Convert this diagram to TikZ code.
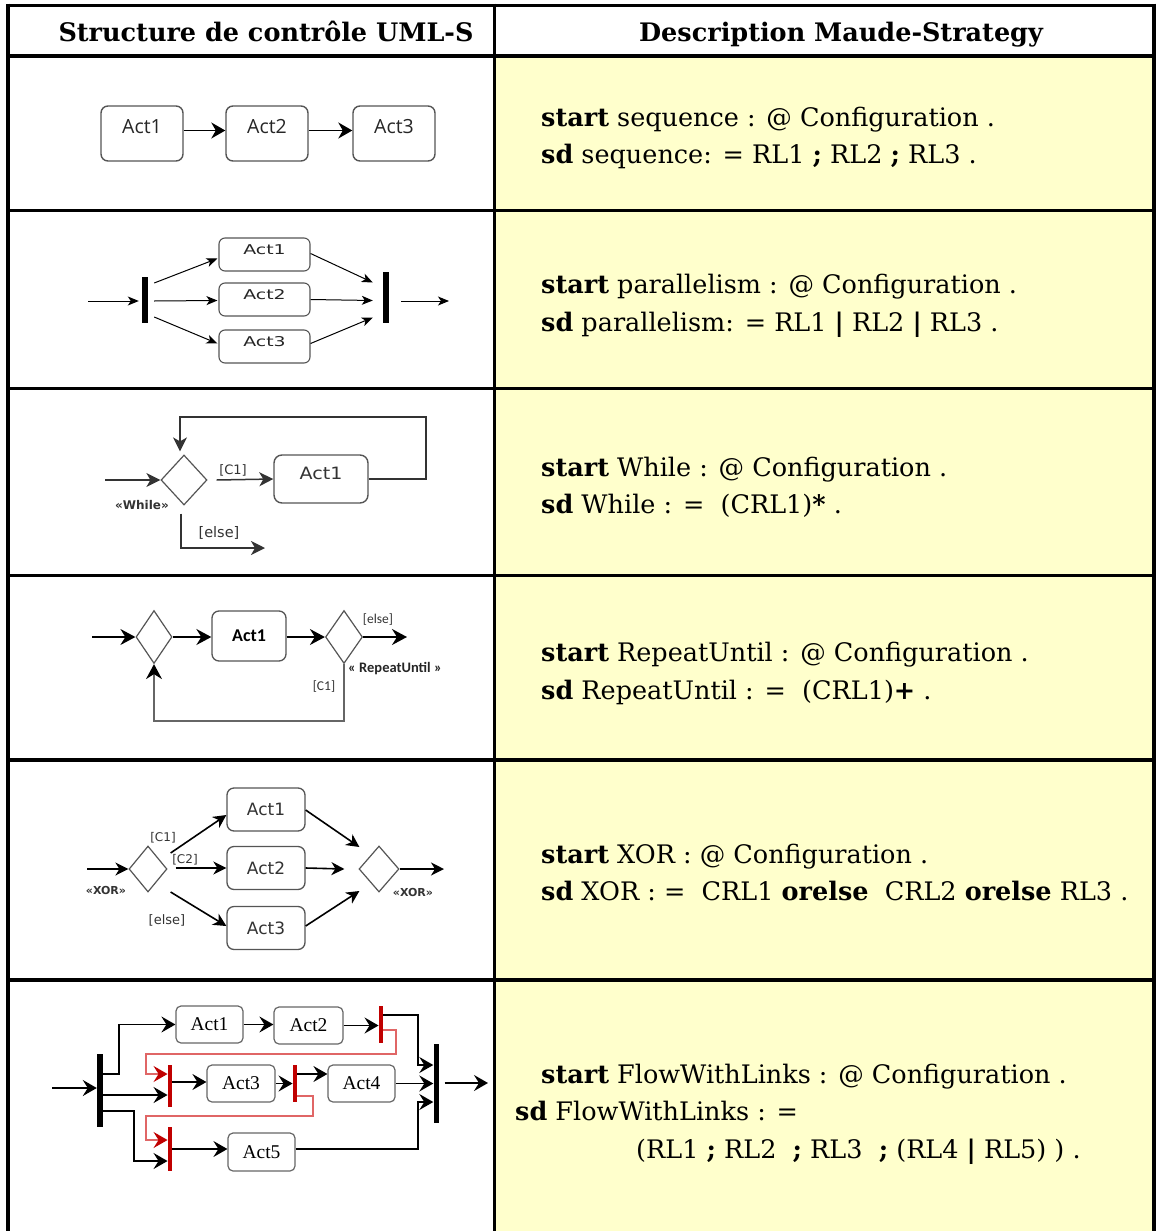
\documentclass[tikz,border=0pt]{standalone}
\usepackage{fontspec}
\usepackage{graphicx}
\setmainfont{DejaVu Serif}
\newfontfamily\dvsans{DejaVu Sans}
\newfontfamily\opsans{Open Sans}
\newfontfamily\carlito{Carlito}
\newfontfamily\libserif{Liberation Serif}
\usetikzlibrary{arrows.meta,shapes.geometric,calc}
\definecolor{cellyellow}{HTML}{FFFFCC}
\definecolor{boxgray}{HTML}{555555}
\definecolor{linkred}{HTML}{E06666}
\definecolor{barred}{HTML}{C00000}
\definecolor{labgray}{HTML}{333333}

\begin{document}
\begin{tikzpicture}[x=1pt,y=-1pt,
  tbl/.style={line width=3.6pt},
  desc/.style={anchor=base west, inner sep=0pt, font=\fontsize{25.5}{37}\selectfont},
  hdr/.style={anchor=base, inner sep=0pt, font=\bfseries\fontsize{25.5}{30}\selectfont},
  % sequence
  seqact/.style={draw=boxgray, line width=1.4pt, rounded corners=7pt, inner sep=0pt,
    minimum width=82pt, minimum height=55pt, font=\opsans\fontsize{19.5}{22}\selectfont,
    text=black!85, text height=10pt, text depth=10pt},
  seqarr/.style={line width=1.7pt, -{Stealth[length=14pt,width=16pt,inset=4.5pt]}},
  % parallelism
  paract/.style={draw=boxgray, line width=1.1pt, rounded corners=6pt, inner sep=0pt,
    minimum width=91pt, minimum height=33pt, font=\dvsans\fontsize{13.5}{15}\selectfont,
    text=black!85, text height=7pt, text depth=7pt},
  pararr/.style={line width=1pt, -{Stealth[length=11pt,width=9pt,inset=3pt]}},
  bar/.style={fill=black, inner sep=0pt, minimum width=6pt},
  rbar/.style={fill=barred, inner sep=0pt, minimum width=4.5pt},
  % decisions
  dia/.style={diamond, draw=boxgray, line width=1.2pt, inner sep=0pt},
  whlact/.style={draw=boxgray, line width=1.4pt, rounded corners=8pt, inner sep=0pt,
    minimum width=94pt, minimum height=48pt, font=\dvsans\fontsize{17}{20}\selectfont,
    text=labgray, text height=8pt, text depth=8pt},
  whlarr/.style={line width=1.5pt, draw=black!80, -{Stealth[length=14pt,width=14pt,inset=4pt]}},
  whllab/.style={inner sep=0pt, text=labgray, font=\dvsans\fontsize{13}{15}\selectfont},
  repact/.style={draw=boxgray, line width=1.3pt, rounded corners=7pt, inner sep=0pt,
    minimum width=74pt, minimum height=50pt, font=\carlito\bfseries\fontsize{18}{20}\selectfont},
  reparr/.style={line width=1.8pt, -{Stealth[length=15pt,width=16pt,inset=5pt]}},
  replab/.style={inner sep=0pt, text=labgray, font=\carlito\fontsize{13.5}{15}\selectfont},
  xoract/.style={draw=boxgray, line width=1.3pt, rounded corners=7pt, inner sep=0pt,
    minimum width=78pt, minimum height=43pt, font=\dvsans\fontsize{17}{19}\selectfont,
    text=labgray},
  xorarr/.style={line width=1.6pt, -{Stealth[length=13pt,width=13pt,inset=4pt]}},
  xorlab/.style={inner sep=0pt, text=labgray, font=\dvsans\fontsize{12}{14}\selectfont},
  % flow with links
  flact/.style={draw=black!60, line width=1.2pt, rounded corners=5pt, inner sep=0pt,
    minimum width=67pt, minimum height=37pt, font=\libserif\fontsize{19.5}{22}\selectfont},
  flarr/.style={line width=1.7pt, -{Stealth[length=14pt,width=16pt,inset=5pt]}},
  lnk/.style={draw=linkred, line width=1.4pt, -{Stealth[length=14pt,width=16pt,inset=5pt,color=barred]}}
]
\useasboundingbox (0,0) rectangle (1156,1231);

% ---------- table ----------
\fill[cellyellow] (494.5,56) rectangle (1154,1231);
\draw[tbl] (8,5.5) -- (1154,5.5);
\foreach \yy in {56,210.5,388.5,575.5,760,980}
  \draw[tbl] (8,\yy) -- (1154,\yy);
\foreach \xx in {8,494.5,1154}
  \draw[tbl] (\xx,3.7) -- (\xx,1231);

\node[hdr] (h1) at (266,42) {Structure de contrôle UML-S};
\node[hdr] (h2) at (841,42) {Description Maude-Strategy};

% ---------- descriptions ----------
\node[desc] (t1a) at (541,126) {\textbf{start} sequence : @ Configuration .};
\node[desc] (t1b) at (541,163) {\textbf{sd} sequence: = RL1 \textbf{;} RL2 \textbf{;} RL3 .};
\node[desc] (t2a) at (541,293) {\textbf{start} parallelism : @ Configuration .};
\node[desc] (t2b) at (541,331) {\textbf{sd} parallelism: = RL1 \textbf{|} RL2 \textbf{|} RL3 .};
\node[desc] (t3a) at (541,476) {\textbf{start} While : @ Configuration .};
\node[desc] (t3b) at (541,513) {\textbf{sd} While : =\ \ (CRL1)\textbf{*} .};
\node[desc] (t4a) at (541,661) {\textbf{start} RepeatUntil : @ Configuration .};
\node[desc] (t4b) at (541,699) {\textbf{sd} RepeatUntil : =\ \ (CRL1)\textbf{+} .};
\node[desc] (t5a) at (541,863) {\textbf{start} XOR : @ Configuration .};
\node[desc] (t5b) at (541,900) {\textbf{sd} XOR : =\ \ CRL1 \textbf{orelse}\ \ CRL2 \textbf{orelse} RL3 .};
\node[desc] (t6a) at (541,1083) {\textbf{start} FlowWithLinks : @ Configuration .};
\node[desc] (t6b) at (515,1120) {\textbf{sd} FlowWithLinks : =};
\node[desc] (t6c) at (636,1158) {(RL1 \textbf{;} RL2\ \ \textbf{;} RL3\ \ \textbf{;} (RL4 \textbf{|} RL5) ) .};

% ---------- sequence ----------
\node[seqact] (sa1) at (142,133.5) {Act1};
\node[seqact] (sa2) at (267,133.5) {Act2};
\node[seqact] (sa3) at (394,133.5) {Act3};
\draw[seqarr] ([yshift=3pt]sa1.east) -- ([yshift=3pt]sa2.west);
\draw[seqarr] ([yshift=3pt]sa2.east) -- ([yshift=3pt]sa3.west);

% ---------- parallelism ----------
\node[paract] (pa1) at (264.5,254.5) {\scalebox{1.4}[1]{Act1}};
\node[paract] (pa2) at (264.5,299.5) {\scalebox{1.4}[1]{Act2}};
\node[paract] (pa3) at (264.5,346.5) {\scalebox{1.4}[1]{Act3}};
\node[bar, minimum height=46pt] (pf) at (145,300) {};
\node[bar, minimum height=51pt] (pj) at (386,297.5) {};
\coordinate (pin) at (88,301);
\coordinate (pout) at (449,301);
\draw[pararr] (pin) -- ($(pin -| pf.west)+(-3,0)$);
\draw[pararr] ($(pf.east)+(6,-17)$) -- ($(pa1.west)+(-1,4)$);
\draw[pararr] ($(pf.east)+(6,1)$) -- ($(pa2.west)+(-1,1)$);
\draw[pararr] ($(pf.east)+(6,17)$) -- ($(pa3.west)+(-1,-3)$);
\draw[pararr] ($(pa1.east)+(0,-1)$) -- ($(pj.west)+(-10,-15)$);
\draw[pararr] (pa2.east) -- ($(pj.west)+(-10,3)$);
\draw[pararr] ($(pa3.east)+(0,-3)$) -- ($(pj.west)+(-10,20)$);
\draw[pararr] (pj.east |- pout) ++(12,0) -- (pout);

% ---------- while ----------
\node[dia, minimum width=46pt, minimum height=50pt] (wd) at (184,480) {};
\node[whlact] (wa) at (321,479) {\scalebox{1.12}[1]{Act1}};
\coordinate (win) at (105,480);
\coordinate (wout) at (265,548);
\draw[whlarr] (win) -- (wd.west);
\draw[whlarr] ($(wd.east)+(9,0)$) -- (wa.west);
\draw[whlarr] (wa.east) -| (426,417) -| ($(wd.north)+(-4,-3)$);
\draw[whlarr] ($(wd.south)+(-3,8)$) |- (wout);
\node[whllab] (wc1) at (233,470) {[C1]};
\node[whllab, font=\dvsans\bfseries\fontsize{12}{14}\selectfont] (wst) at (142,505) {«While»};
\node[whllab, font=\dvsans\fontsize{14.5}{16}\selectfont] (wel) at (219,533) {[else]};

% ---------- repeat until ----------
\node[dia, minimum width=36pt, minimum height=53pt] (rd1) at (154,637) {};
\node[repact] (ra) at (249,636) {Act1};
\node[dia, minimum width=37pt, minimum height=53pt] (rd2) at (344,637) {};
\coordinate (rin) at (92,637);
\coordinate (rout) at (407,637);
\draw[reparr] (rin) -- (rd1.west);
\draw[reparr] (rd1.east) -- (ra.west |- rd1.east);
\draw[reparr] (ra.east |- rd2.west) -- (rd2.west);
\draw[reparr] (rd2.east) -- (rout);
\draw[line width=1.3pt, draw=black!60, -{Stealth[length=15pt,width=16pt,inset=5pt,color=black]}]
  (rd2.south) -- ++(0,57) -| (rd1.south);
\node[replab] (rel) at (378,620) {[else]};
\node[replab, font=\carlito\bfseries\fontsize{14.5}{16}\selectfont, text=black!85] (rst) at (395,669) {« RepeatUntil »};
\node[replab] (rc1) at (324,687) {[C1]};

% ---------- xor ----------
\node[dia, minimum width=38pt, minimum height=46pt] (xd1) at (148,869) {};
\node[xoract] (xa1) at (266,809.5) {Act1};
\node[xoract] (xa2) at (266,868) {Act2};
\node[xoract] (xa3) at (266,928) {Act3};
\node[dia, minimum width=40pt, minimum height=46pt] (xd2) at (379,869) {};
\coordinate (xin) at (87,869);
\coordinate (xout) at (444,869);
\draw[xorarr] (xin) -- (xd1.west);
\draw[xorarr] ($(xd1.east)+(3,-16)$) -- ($(xa1.west)+(0,5.5)$);
\draw[xorarr] ($(xd1.east)+(8,-1)$) -- (xa2.west);
\draw[xorarr] ($(xd1.east)+(3,23)$) -- ($(xa3.west)+(0,-2)$);
\draw[xorarr] ($(xa1.east)+(0,0.5)$) -- ($(xd2.west)+(1,-22)$);
\draw[xorarr] (xa2.east) -- ($(xd2.west)+(-14,0)$);
\draw[xorarr] ($(xa3.east)+(0,-2)$) -- ($(xd2.west)+(1,22)$);
\draw[xorarr] (xd2.east) -- (xout);
\node[xorlab] (xc1) at (163,838) {[C1]};
\node[xorlab] (xc2) at (185,860) {[C2]};
\node[xorlab, font=\dvsans\fontsize{13}{15}\selectfont] (xel) at (167,920) {[else]};
\node[xorlab, font=\dvsans\bfseries\fontsize{11}{13}\selectfont] (xs1) at (106,890) {«XOR»};
\node[xorlab, font=\dvsans\bfseries\fontsize{11}{13}\selectfont] (xs2) at (413,892) {«XOR»};

% ---------- flow with links ----------
\node[bar, minimum height=73pt] (ff) at (100,1090.5) {};
\node[bar, minimum width=5pt, minimum height=79pt] (fj) at (436,1083.5) {};
\node[rbar, minimum height=37pt] (fr1) at (381,1024.5) {};
\node[rbar, minimum height=42pt] (fr2) at (170,1086) {};
\node[rbar, minimum height=37pt] (fr3) at (295,1083.5) {};
\node[rbar, minimum height=44pt] (fr4) at (170,1149) {};
\node[flact] (fa1) at (209.5,1024.5) {Act1};
\node[flact, minimum width=69pt] (fa2) at (308.5,1025.5) {Act2};
\node[flact, minimum width=68pt] (fa3) at (241,1083.5) {Act3};
\node[flact] (fa4) at (361.5,1083.5) {Act4};
\node[flact, minimum height=38pt] (fa5) at (261.5,1152) {Act5};
\coordinate (fin) at (52,1088);
\coordinate (fout) at (488,1083);
\draw[flarr] (fin) -- (fin -| ff.west);
\draw[flarr] (ff.east |- 0,1074) -- (119,1074) |- (fa1.west);
\draw[flarr] (fa1.east) -- (fa1.east -| fa2.west);
\draw[flarr] (fa2.east) -- (fa2.east -| fr1.west);
\draw[flarr] (fr1.east |- 0,1015) -| (418,1065) -- (fj.west |- 0,1065);
\draw[lnk] (fr1.east |- 0,1030) -| (396,1054) -| (146,1074) -- (fr2.west |- 0,1074);
\draw[flarr] (ff.east |- 0,1095) -- (fr2.west |- 0,1095);
\draw[flarr] (fr2.east |- 0,1082) -- (fa3.west |- 0,1082);
\draw[flarr] (fa3.east) -- (fa3.east -| fr3.west);
\draw[flarr] (fr3.east |- 0,1074) -- (fa4.west |- 0,1074);
\draw[flarr] (fa4.east) -- (fa4.east -| fj.west);
\draw[lnk] (fr3.east |- 0,1096) -| (313,1116) -| (146,1140) -- (fr4.west |- 0,1140);
\draw[flarr] (ff.east |- 0,1111) -| (134,1161) -- (fr4.west |- 0,1161);
\draw[flarr] (fr4.east |- 0,1149) -- (fa5.west |- 0,1149);
\draw[flarr] (fa5.east |- 0,1149) -| (418,1102) -- (fj.west |- 0,1102);
\draw[flarr] (fj.east |- fout) ++(6,0) -- (fout);
\end{tikzpicture}
\end{document}
